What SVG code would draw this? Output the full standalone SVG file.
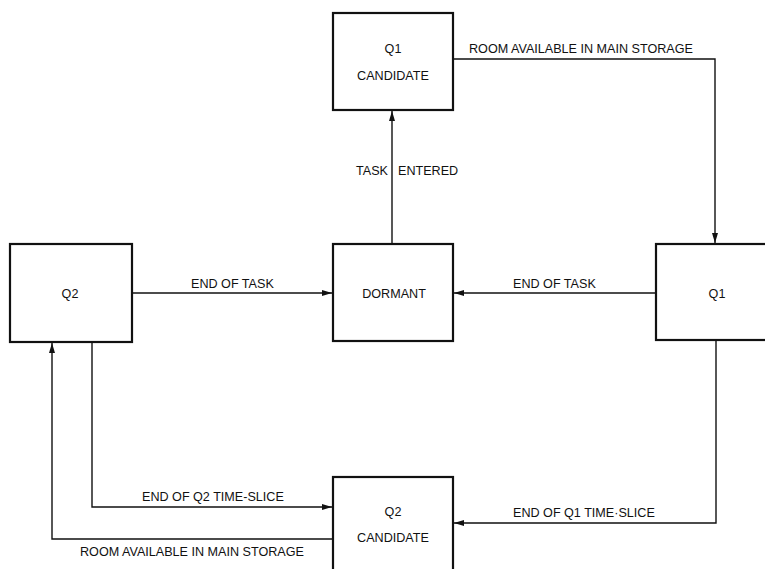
<svg xmlns="http://www.w3.org/2000/svg" width="765" height="569" viewBox="0 0 765 569">
<style>
.box{fill:#fff;stroke:#111;stroke-width:2.2}
.ln{fill:none;stroke:#111;stroke-width:1.4}
text{font-family:"Liberation Sans",Arial,sans-serif;font-size:12.6px;fill:#111}
.c{text-anchor:middle}
</style>
<defs>
<marker id="ah" viewBox="0 0 10 6" refX="10" refY="3" markerWidth="10" markerHeight="6" markerUnits="userSpaceOnUse" orient="auto">
<path d="M0,0 L10,3 L0,6 Z" fill="#111"/>
</marker>
</defs>
<g id="connectors">
<path class="ln" d="M392,244 V111" marker-end="url(#ah)"/>
<path class="ln" d="M453,59 H715 V243" marker-end="url(#ah)"/>
<path class="ln" d="M132,293 H332" marker-end="url(#ah)"/>
<path class="ln" d="M656,293 H454" marker-end="url(#ah)"/>
<path class="ln" d="M716,341 V523 H454" marker-end="url(#ah)"/>
<path class="ln" d="M92,342 V507 H332" marker-end="url(#ah)"/>
<path class="ln" d="M333,539 H52 V343" marker-end="url(#ah)"/>
<text x="469" y="53">ROOM AVAILABLE IN MAIN STORAGE</text>
<text x="356" y="175">TASK</text>
<text x="398" y="175">ENTERED</text>
<text x="191" y="288">END OF TASK</text>
<text x="513" y="288">END OF TASK</text>
<text x="142" y="501">END OF Q2 TIME-SLICE</text>
<text x="513" y="517">END OF Q1 TIME·SLICE</text>
<text x="80" y="556">ROOM AVAILABLE IN MAIN STORAGE</text>
</g>
<g id="q1cand">
<rect class="box" x="333" y="13" width="120" height="97"/>
<text class="c" x="393" y="53">Q1</text>
<text class="c" x="393" y="80">CANDIDATE</text>
</g>
<g id="q2">
<rect class="box" x="10" y="244" width="122" height="98"/>
<text class="c" x="70" y="298">Q2</text>
</g>
<g id="dormant">
<rect class="box" x="333" y="244" width="120" height="97"/>
<text class="c" x="394" y="298">DORMANT</text>
</g>
<g id="q1">
<rect class="box" x="656" y="244" width="120" height="96"/>
<text class="c" x="717" y="298">Q1</text>
</g>
<g id="q2cand">
<rect class="box" x="333" y="477" width="120" height="100"/>
<text class="c" x="393" y="516">Q2</text>
<text class="c" x="393" y="542">CANDIDATE</text>
</g>
</svg>
